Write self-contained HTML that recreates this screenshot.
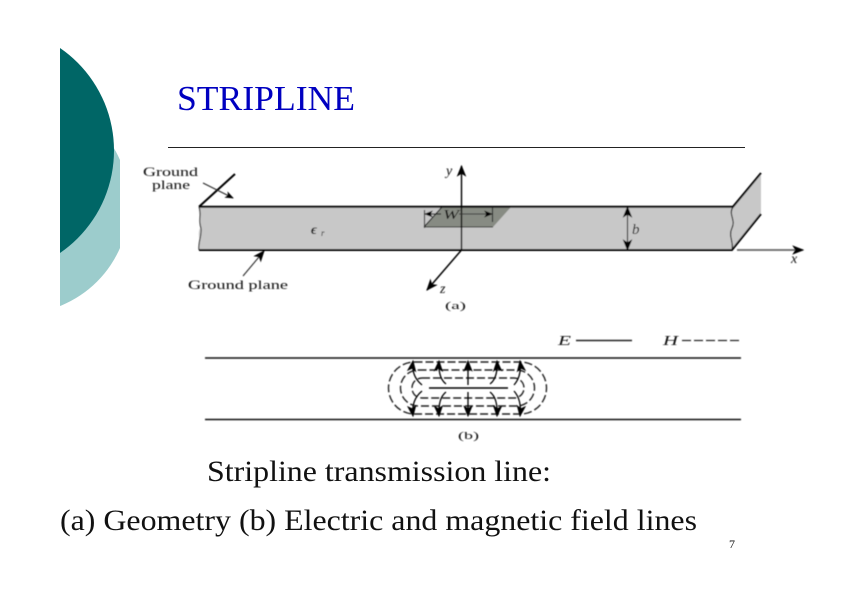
<!DOCTYPE html>
<html><head><meta charset="utf-8"><style>
html,body{margin:0;padding:0;background:#fff;width:842px;height:595px;overflow:hidden}
svg{display:block}
text{font-family:"Liberation Serif",serif;fill:#111}
</style></head><body>
<svg width="842" height="595" viewBox="0 0 842 595" xmlns="http://www.w3.org/2000/svg">
<defs>
<clipPath id="c1"><rect x="60" y="0" width="60" height="400"/></clipPath>
<filter id="b" x="-5%" y="-5%" width="110%" height="110%"><feGaussianBlur stdDeviation="0.4"/></filter>
<marker id="ah" viewBox="0 0 10 8" refX="9" refY="4" markerWidth="12" markerHeight="10" markerUnits="userSpaceOnUse" orient="auto"><path d="M0 0L10 4L0 8L2.5 4Z" fill="#000"/></marker>
<marker id="ahs" viewBox="0 0 10 8" refX="9" refY="4" markerWidth="9" markerHeight="7" markerUnits="userSpaceOnUse" orient="auto"><path d="M0 0L10 4L0 8L2.5 4Z" fill="#000"/></marker>
</defs>
<g clip-path="url(#c1)">
<circle cx="19.4" cy="204" r="109.8" fill="#9ccccc"/>
<circle cx="-10.3" cy="150.5" r="124.3" fill="#006666"/>
</g>
<text x="177" y="110" font-size="35" textLength="178" lengthAdjust="spacingAndGlyphs" style="fill:#0000c0">STRIPLINE</text>
<line x1="168" y1="147.5" x2="745" y2="147.5" stroke="#222" stroke-width="1"/>

<g filter="url(#b)">
<path d="M199 207H733L761 173V214L732 250H199C201 240 197 235 200 228C202 220 198 215 199 207Z" fill="#c8c8c8"/>
<path d="M733 207C728 214 736 220 732 228C728 236 734 242 732 250" fill="none" stroke="#111" stroke-width="1.1"/>
<path d="M199 207C202 214 198 220 201 228C202 236 198 242 199 250" fill="none" stroke="#333" stroke-width="1.1"/>
<path d="M424 227L442 207H511L493 227Z" fill="#878b83"/>
<path d="M424 227L442 207M424 227H493" fill="none" stroke="#222" stroke-width="1.1"/>
<path d="M199 206.700H733L761 173M199 250H732L761 214M199 206.700L235 174" fill="none" stroke="#000" stroke-width="2"/>
<line x1="461.500" y1="250" x2="461.500" y2="166" stroke="#000" stroke-width="1.4" marker-end="url(#ah)"/>
<line x1="461.500" y1="250" x2="427" y2="290" stroke="#000" stroke-width="1.5" marker-end="url(#ah)"/>
<line x1="737" y1="250" x2="803" y2="250" stroke="#666" stroke-width="1.8" marker-end="url(#ah)"/>
<line x1="627.500" y1="228" x2="627.500" y2="207" stroke="#000" stroke-width="1.1" marker-end="url(#ah)"/>
<line x1="627.500" y1="228" x2="627.500" y2="250" stroke="#000" stroke-width="1.1" marker-end="url(#ah)"/>
<line x1="424.500" y1="210" x2="424.500" y2="228" stroke="#222" stroke-width="1.1"/>
<line x1="492.500" y1="207" x2="492.500" y2="222" stroke="#222" stroke-width="1.1"/>
<line x1="441" y1="214" x2="425" y2="214" stroke="#000" stroke-width="1.1" marker-end="url(#ahs)"/>
<line x1="459" y1="214" x2="492" y2="214" stroke="#333" stroke-width="1" marker-end="url(#ahs)"/>
<line x1="203" y1="183" x2="233" y2="198" stroke="#222" stroke-width="1" marker-end="url(#ahs)"/>
<line x1="243" y1="276" x2="264" y2="251" stroke="#222" stroke-width="1" marker-end="url(#ah)"/>

<text x="143" y="176" font-size="13" textLength="55" lengthAdjust="spacingAndGlyphs">Ground</text>
<text x="152" y="189" font-size="13" textLength="38" lengthAdjust="spacingAndGlyphs">plane</text>
<text x="188" y="289" font-size="13" textLength="100" lengthAdjust="spacingAndGlyphs">Ground plane</text>
<text x="311" y="234" font-size="14" font-style="italic" font-weight="bold">ϵ</text>
<text x="321" y="236" font-size="9" font-style="italic">r</text>
<text x="443" y="219" font-size="14" font-style="italic" textLength="16" lengthAdjust="spacingAndGlyphs">W</text>
<text x="632" y="234" font-size="15" font-style="italic">b</text>
<text x="446" y="175" font-size="14" font-style="italic">y</text>
<text x="440" y="293" font-size="14" font-style="italic">z</text>
<text x="791" y="263" font-size="14" font-style="italic">x</text>
<text x="445" y="309" font-size="11" textLength="21" lengthAdjust="spacingAndGlyphs">(a)</text>

<line x1="205" y1="358" x2="741" y2="358" stroke="#111" stroke-width="1.6"/>
<line x1="205" y1="419.500" x2="741" y2="419.500" stroke="#111" stroke-width="1.6"/>
<line x1="429" y1="388" x2="508" y2="388" stroke="#000" stroke-width="1.5"/>
<g fill="none" stroke="#222" stroke-width="1.4" stroke-dasharray="8 3">
<rect x="388.500" y="362" width="158" height="52" rx="26" ry="26"/>
<rect x="400.500" y="370" width="134" height="36" rx="18" ry="18"/>
<rect x="412" y="378" width="112" height="20" rx="10" ry="10"/>
</g>
<g fill="none" stroke="#000" stroke-width="1.3" marker-end="url(#ah)">
<path d="M468 385V361"/>
<path d="M468 392V416"/>
<path d="M446 384Q438 378 439 361"/>
<path d="M490 384Q498 378 497 361"/>
<path d="M446 392Q438 398 439 416"/>
<path d="M490 392Q498 398 497 416"/>
<path d="M422 385Q411 376 413 361"/>
<path d="M514 385Q522 376 520 361"/>
<path d="M422 391Q411 400 413 416"/>
<path d="M514 391Q522 400 520 416"/>
</g>
<text x="458" y="439" font-size="11" textLength="21" lengthAdjust="spacingAndGlyphs">(b)</text>
<text x="558" y="345" font-size="14" font-style="italic" textLength="13" lengthAdjust="spacingAndGlyphs">E</text>
<line x1="576" y1="340.500" x2="632" y2="340.500" stroke="#222" stroke-width="1.4"/>
<text x="663" y="345" font-size="14" font-style="italic" textLength="15" lengthAdjust="spacingAndGlyphs">H</text>
<line x1="682" y1="340.500" x2="739" y2="340.500" stroke="#222" stroke-width="1.2" stroke-dasharray="9 3"/>
</g>

<text x="207" y="481" font-size="30" textLength="344" lengthAdjust="spacingAndGlyphs">Stripline transmission line:</text>
<text x="60" y="530" font-size="30" textLength="637" lengthAdjust="spacingAndGlyphs">(a) Geometry (b) Electric and magnetic field lines</text>
<text x="729" y="548" font-size="12">7</text>
</svg>
</body></html>
